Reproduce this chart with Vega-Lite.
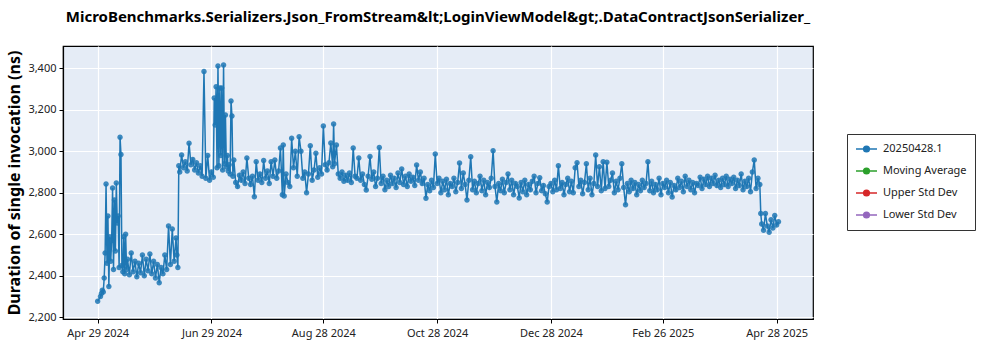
{
"$schema":"https://vega.github.io/schema/vega-lite/v6.json",
"width":750,"height":273,
"autosize":{"type":"none"},
"padding":{"left":63,"top":46,"right":187,"bottom":31},
"background":"white",
"title":{"text":"MicroBenchmarks.Serializers.Json_FromStream&lt;LoginViewModel&gt;.DataContractJsonSerializer_","anchor":"middle","frame":"group","font":"Noto Sans","fontSize":15,"fontWeight":"bold","color":"black","baseline":"alphabetic","offset":9},
"config":{
"view":{"fill":"#e5ecf6","stroke":"black","strokeWidth":1.2},
"axis":{"labelFont":"Noto Sans","labelFontSize":11,"labelColor":"#222","tickColor":"black","tickSize":4,"domainColor":"black","domainWidth":1.2,"gridColor":"white","gridWidth":1.2,"titleFont":"Noto Sans","titleColor":"black"}
},
"data":{"values":[
{"d":"2024-04-29","v":2278},
{"d":"2024-04-30T12:00Z","v":2300},
{"d":"2024-05-01","v":2315},
{"d":"2024-05-01T12:00Z","v":2330},
{"d":"2024-05-02","v":2322},
{"d":"2024-05-02T12:00Z","v":2390},
{"d":"2024-05-03","v":2510},
{"d":"2024-05-03T12:00Z","v":2842},
{"d":"2024-05-04","v":2460},
{"d":"2024-05-04T12:00Z","v":2688},
{"d":"2024-05-05","v":2348},
{"d":"2024-05-05T12:00Z","v":2588},
{"d":"2024-05-06","v":2470},
{"d":"2024-05-06T12:00Z","v":2570},
{"d":"2024-05-07","v":2823},
{"d":"2024-05-07T12:00Z","v":2430},
{"d":"2024-05-08","v":2765},
{"d":"2024-05-08T12:00Z","v":2520},
{"d":"2024-05-09","v":2847},
{"d":"2024-05-09T12:00Z","v":2655},
{"d":"2024-05-10","v":2688},
{"d":"2024-05-10T12:00Z","v":2440},
{"d":"2024-05-11","v":3068},
{"d":"2024-05-11T12:00Z","v":2984},
{"d":"2024-05-12","v":2450},
{"d":"2024-05-12T12:00Z","v":2420},
{"d":"2024-05-13","v":2588},
{"d":"2024-05-13T12:00Z","v":2410},
{"d":"2024-05-14","v":2600},
{"d":"2024-05-14T12:00Z","v":2430},
{"d":"2024-05-15","v":2480},
{"d":"2024-05-16","v":2405},
{"d":"2024-05-17","v":2510},
{"d":"2024-05-18","v":2420},
{"d":"2024-05-19","v":2470},
{"d":"2024-05-20","v":2395},
{"d":"2024-05-21","v":2460},
{"d":"2024-05-22","v":2415},
{"d":"2024-05-23","v":2500},
{"d":"2024-05-24","v":2400},
{"d":"2024-05-25","v":2480},
{"d":"2024-05-26","v":2425},
{"d":"2024-05-27","v":2505},
{"d":"2024-05-28","v":2410},
{"d":"2024-05-29","v":2470},
{"d":"2024-05-30","v":2390},
{"d":"2024-05-31","v":2455},
{"d":"2024-06-01","v":2367},
{"d":"2024-06-02","v":2440},
{"d":"2024-06-03","v":2410},
{"d":"2024-06-04","v":2500},
{"d":"2024-06-05","v":2430},
{"d":"2024-06-06","v":2640},
{"d":"2024-06-07","v":2455},
{"d":"2024-06-08","v":2625},
{"d":"2024-06-09","v":2470},
{"d":"2024-06-10","v":2582},
{"d":"2024-06-10T12:00Z","v":2500},
{"d":"2024-06-11","v":2440},
{"d":"2024-06-11T12:00Z","v":2930},
{"d":"2024-06-12","v":2900},
{"d":"2024-06-13","v":2982},
{"d":"2024-06-14","v":2920},
{"d":"2024-06-15","v":2950},
{"d":"2024-06-16","v":2905},
{"d":"2024-06-17","v":3039},
{"d":"2024-06-18","v":2935},
{"d":"2024-06-19","v":2960},
{"d":"2024-06-20","v":2910},
{"d":"2024-06-21","v":2945},
{"d":"2024-06-22","v":2895},
{"d":"2024-06-23","v":2930},
{"d":"2024-06-24","v":2880},
{"d":"2024-06-25","v":3384},
{"d":"2024-06-26","v":2870},
{"d":"2024-06-27","v":2980},
{"d":"2024-06-28","v":2860},
{"d":"2024-06-29","v":2900},
{"d":"2024-06-30","v":2875},
{"d":"2024-06-30T12:00Z","v":3257},
{"d":"2024-07-01","v":3127},
{"d":"2024-07-01T12:00Z","v":3311},
{"d":"2024-07-02","v":2920},
{"d":"2024-07-02T12:00Z","v":3411},
{"d":"2024-07-03","v":2930},
{"d":"2024-07-03T12:00Z","v":3305},
{"d":"2024-07-04","v":2980},
{"d":"2024-07-04T12:00Z","v":3305},
{"d":"2024-07-05","v":2910},
{"d":"2024-07-05T12:00Z","v":3416},
{"d":"2024-07-06","v":2940},
{"d":"2024-07-06T12:00Z","v":3175},
{"d":"2024-07-07","v":2925},
{"d":"2024-07-07T12:00Z","v":2980},
{"d":"2024-07-08","v":2905},
{"d":"2024-07-08T12:00Z","v":2935},
{"d":"2024-07-09","v":2890},
{"d":"2024-07-09T12:00Z","v":3242},
{"d":"2024-07-10","v":3170},
{"d":"2024-07-10T12:00Z","v":2880},
{"d":"2024-07-11","v":2958},
{"d":"2024-07-12","v":2850},
{"d":"2024-07-13","v":2830},
{"d":"2024-07-14","v":2885},
{"d":"2024-07-15","v":2860},
{"d":"2024-07-16","v":2900},
{"d":"2024-07-17","v":2845},
{"d":"2024-07-18","v":2968},
{"d":"2024-07-19","v":2870},
{"d":"2024-07-20","v":2840},
{"d":"2024-07-21","v":2880},
{"d":"2024-07-22","v":2781},
{"d":"2024-07-23","v":2950},
{"d":"2024-07-24","v":2860},
{"d":"2024-07-25","v":2890},
{"d":"2024-07-26","v":2850},
{"d":"2024-07-27","v":2955},
{"d":"2024-07-28","v":2870},
{"d":"2024-07-29","v":2905},
{"d":"2024-07-30","v":2845},
{"d":"2024-07-31","v":2950},
{"d":"2024-08-01","v":2880},
{"d":"2024-08-02","v":2958},
{"d":"2024-08-03","v":2870},
{"d":"2024-08-04","v":2905},
{"d":"2024-08-05","v":3016},
{"d":"2024-08-06","v":2790},
{"d":"2024-08-06T12:00Z","v":3030},
{"d":"2024-08-07","v":2785},
{"d":"2024-08-08","v":2890},
{"d":"2024-08-09","v":2850},
{"d":"2024-08-10","v":2830},
{"d":"2024-08-11","v":3063},
{"d":"2024-08-12","v":2920},
{"d":"2024-08-13","v":3000},
{"d":"2024-08-14","v":2880},
{"d":"2024-08-15","v":3070},
{"d":"2024-08-16","v":3000},
{"d":"2024-08-17","v":2870},
{"d":"2024-08-18","v":2900},
{"d":"2024-08-19","v":2800},
{"d":"2024-08-20","v":2890},
{"d":"2024-08-21","v":3026},
{"d":"2024-08-22","v":2860},
{"d":"2024-08-23","v":2910},
{"d":"2024-08-24","v":2990},
{"d":"2024-08-25","v":2875},
{"d":"2024-08-26","v":2920},
{"d":"2024-08-27","v":2890},
{"d":"2024-08-28","v":3122},
{"d":"2024-08-29","v":2935},
{"d":"2024-08-30","v":2910},
{"d":"2024-08-31","v":2945},
{"d":"2024-09-01","v":3040},
{"d":"2024-09-02","v":2925},
{"d":"2024-09-02T12:00Z","v":3131},
{"d":"2024-09-03","v":2940},
{"d":"2024-09-04","v":3030},
{"d":"2024-09-05","v":2890},
{"d":"2024-09-06","v":2870},
{"d":"2024-09-07","v":2900},
{"d":"2024-09-08","v":2855},
{"d":"2024-09-09","v":2885},
{"d":"2024-09-10","v":2860},
{"d":"2024-09-11","v":2895},
{"d":"2024-09-12","v":2850},
{"d":"2024-09-13","v":3016},
{"d":"2024-09-14","v":2880},
{"d":"2024-09-15","v":2870},
{"d":"2024-09-16","v":2968},
{"d":"2024-09-17","v":2860},
{"d":"2024-09-18","v":2890},
{"d":"2024-09-19","v":2840},
{"d":"2024-09-20","v":2813},
{"d":"2024-09-21","v":2880},
{"d":"2024-09-22","v":2975},
{"d":"2024-09-23","v":2865},
{"d":"2024-09-24","v":2900},
{"d":"2024-09-25","v":2830},
{"d":"2024-09-26","v":2870},
{"d":"2024-09-27","v":3018},
{"d":"2024-09-28","v":2845},
{"d":"2024-09-29","v":2880},
{"d":"2024-09-30","v":2815},
{"d":"2024-10-01","v":2860},
{"d":"2024-10-02","v":2830},
{"d":"2024-10-03","v":2885},
{"d":"2024-10-04","v":2845},
{"d":"2024-10-05","v":2870},
{"d":"2024-10-06","v":2825},
{"d":"2024-10-07","v":2895},
{"d":"2024-10-08","v":2850},
{"d":"2024-10-09","v":2915},
{"d":"2024-10-10","v":2840},
{"d":"2024-10-11","v":2880},
{"d":"2024-10-12","v":2830},
{"d":"2024-10-13","v":2890},
{"d":"2024-10-14","v":2855},
{"d":"2024-10-15","v":2875},
{"d":"2024-10-16","v":2835},
{"d":"2024-10-17","v":2934},
{"d":"2024-10-18","v":2860},
{"d":"2024-10-19","v":2900},
{"d":"2024-10-20","v":2845},
{"d":"2024-10-21","v":2870},
{"d":"2024-10-22","v":2774},
{"d":"2024-10-23","v":2840},
{"d":"2024-10-24","v":2810},
{"d":"2024-10-25","v":2860},
{"d":"2024-10-26","v":2825},
{"d":"2024-10-27","v":2987},
{"d":"2024-10-28","v":2845},
{"d":"2024-10-29","v":2870},
{"d":"2024-10-30","v":2800},
{"d":"2024-10-31","v":2855},
{"d":"2024-11-01","v":2815},
{"d":"2024-11-02","v":2865},
{"d":"2024-11-03","v":2790},
{"d":"2024-11-04","v":2845},
{"d":"2024-11-05","v":2830},
{"d":"2024-11-06","v":2870},
{"d":"2024-11-07","v":2805},
{"d":"2024-11-08","v":2850},
{"d":"2024-11-09","v":2943},
{"d":"2024-11-10","v":2820},
{"d":"2024-11-11","v":2895},
{"d":"2024-11-12","v":2840},
{"d":"2024-11-13","v":2765},
{"d":"2024-11-14","v":2860},
{"d":"2024-11-15","v":2973},
{"d":"2024-11-16","v":2815},
{"d":"2024-11-17","v":2855},
{"d":"2024-11-18","v":2800},
{"d":"2024-11-19","v":2845},
{"d":"2024-11-20","v":2880},
{"d":"2024-11-21","v":2810},
{"d":"2024-11-22","v":2860},
{"d":"2024-11-23","v":2790},
{"d":"2024-11-24","v":2850},
{"d":"2024-11-25","v":2825},
{"d":"2024-11-26","v":2870},
{"d":"2024-11-27","v":3003},
{"d":"2024-11-28","v":2830},
{"d":"2024-11-29","v":2756},
{"d":"2024-11-30","v":2845},
{"d":"2024-12-01","v":2810},
{"d":"2024-12-02","v":2865},
{"d":"2024-12-03","v":2800},
{"d":"2024-12-04","v":2850},
{"d":"2024-12-05","v":2890},
{"d":"2024-12-06","v":2815},
{"d":"2024-12-07","v":2860},
{"d":"2024-12-08","v":2790},
{"d":"2024-12-09","v":2845},
{"d":"2024-12-10","v":2830},
{"d":"2024-12-11","v":2775},
{"d":"2024-12-12","v":2850},
{"d":"2024-12-13","v":2805},
{"d":"2024-12-14","v":2860},
{"d":"2024-12-15","v":2790},
{"d":"2024-12-16","v":2840},
{"d":"2024-12-17","v":2815},
{"d":"2024-12-18","v":2855},
{"d":"2024-12-19","v":2880},
{"d":"2024-12-20","v":2800},
{"d":"2024-12-21","v":2845},
{"d":"2024-12-22","v":2872},
{"d":"2024-12-23","v":2810},
{"d":"2024-12-24","v":2835},
{"d":"2024-12-25","v":2795},
{"d":"2024-12-26","v":2756},
{"d":"2024-12-27","v":2830},
{"d":"2024-12-28","v":2845},
{"d":"2024-12-29","v":2805},
{"d":"2024-12-30","v":2860},
{"d":"2024-12-31","v":2815},
{"d":"2025-01-01","v":2930},
{"d":"2025-01-02","v":2820},
{"d":"2025-01-03","v":2850},
{"d":"2025-01-04","v":2790},
{"d":"2025-01-05","v":2840},
{"d":"2025-01-06","v":2870},
{"d":"2025-01-07","v":2805},
{"d":"2025-01-08","v":2855},
{"d":"2025-01-09","v":2800},
{"d":"2025-01-10","v":2920},
{"d":"2025-01-11","v":2945},
{"d":"2025-01-12","v":2830},
{"d":"2025-01-13","v":2860},
{"d":"2025-01-14","v":2795},
{"d":"2025-01-15","v":2850},
{"d":"2025-01-16","v":2940},
{"d":"2025-01-17","v":2815},
{"d":"2025-01-18","v":2870},
{"d":"2025-01-19","v":2790},
{"d":"2025-01-20","v":2845},
{"d":"2025-01-21","v":2982},
{"d":"2025-01-22","v":2830},
{"d":"2025-01-23","v":2925},
{"d":"2025-01-24","v":2810},
{"d":"2025-01-25","v":2950},
{"d":"2025-01-26","v":2820},
{"d":"2025-01-27","v":2947},
{"d":"2025-01-28","v":2830},
{"d":"2025-01-29","v":2860},
{"d":"2025-01-30","v":2895},
{"d":"2025-01-31","v":2800},
{"d":"2025-02-01","v":2855},
{"d":"2025-02-02","v":2815},
{"d":"2025-02-03","v":2870},
{"d":"2025-02-04","v":2940},
{"d":"2025-02-05","v":2825},
{"d":"2025-02-06","v":2742},
{"d":"2025-02-07","v":2845},
{"d":"2025-02-08","v":2805},
{"d":"2025-02-09","v":2860},
{"d":"2025-02-10","v":2820},
{"d":"2025-02-11","v":2850},
{"d":"2025-02-12","v":2790},
{"d":"2025-02-13","v":2840},
{"d":"2025-02-14","v":2810},
{"d":"2025-02-15","v":2860},
{"d":"2025-02-16","v":2825},
{"d":"2025-02-17","v":2845},
{"d":"2025-02-18","v":2950},
{"d":"2025-02-19","v":2810},
{"d":"2025-02-20","v":2855},
{"d":"2025-02-21","v":2800},
{"d":"2025-02-22","v":2840},
{"d":"2025-02-23","v":2815},
{"d":"2025-02-24","v":2870},
{"d":"2025-02-25","v":2790},
{"d":"2025-02-26","v":2845},
{"d":"2025-02-27","v":2825},
{"d":"2025-02-28","v":2860},
{"d":"2025-03-01","v":2800},
{"d":"2025-03-02","v":2850},
{"d":"2025-03-03","v":2780},
{"d":"2025-03-04","v":2835},
{"d":"2025-03-05","v":2815},
{"d":"2025-03-06","v":2870},
{"d":"2025-03-07","v":2825},
{"d":"2025-03-08","v":2855},
{"d":"2025-03-09","v":2805},
{"d":"2025-03-10","v":2880},
{"d":"2025-03-11","v":2830},
{"d":"2025-03-12","v":2860},
{"d":"2025-03-13","v":2815},
{"d":"2025-03-14","v":2850},
{"d":"2025-03-15","v":2800},
{"d":"2025-03-16","v":2845},
{"d":"2025-03-17","v":2835},
{"d":"2025-03-18","v":2875},
{"d":"2025-03-19","v":2820},
{"d":"2025-03-20","v":2865},
{"d":"2025-03-21","v":2840},
{"d":"2025-03-22","v":2880},
{"d":"2025-03-23","v":2830},
{"d":"2025-03-24","v":2870},
{"d":"2025-03-25","v":2845},
{"d":"2025-03-26","v":2885},
{"d":"2025-03-27","v":2835},
{"d":"2025-03-28","v":2860},
{"d":"2025-03-29","v":2825},
{"d":"2025-03-30","v":2870},
{"d":"2025-03-31","v":2840},
{"d":"2025-04-01","v":2880},
{"d":"2025-04-02","v":2830},
{"d":"2025-04-03","v":2865},
{"d":"2025-04-04","v":2845},
{"d":"2025-04-05","v":2875},
{"d":"2025-04-06","v":2820},
{"d":"2025-04-07","v":2860},
{"d":"2025-04-08","v":2835},
{"d":"2025-04-09","v":2890},
{"d":"2025-04-10","v":2815},
{"d":"2025-04-11","v":2855},
{"d":"2025-04-12","v":2830},
{"d":"2025-04-13","v":2870},
{"d":"2025-04-14","v":2805},
{"d":"2025-04-15","v":2900},
{"d":"2025-04-16","v":2958},
{"d":"2025-04-17","v":2820},
{"d":"2025-04-18","v":2870},
{"d":"2025-04-19","v":2840},
{"d":"2025-04-19T12:00Z","v":2700},
{"d":"2025-04-20","v":2650},
{"d":"2025-04-21","v":2620},
{"d":"2025-04-22","v":2700},
{"d":"2025-04-23","v":2640},
{"d":"2025-04-24","v":2610},
{"d":"2025-04-25","v":2670},
{"d":"2025-04-26","v":2630},
{"d":"2025-04-27","v":2690},
{"d":"2025-04-28","v":2645},
{"d":"2025-04-29","v":2660}
]},
"encoding":{
"x":{"field":"d","type":"temporal","title":null,
 "scale":{"type":"utc","domain":[{"year":2024,"month":4,"date":10,"hours":10,"utc":true},{"year":2025,"month":5,"date":17,"hours":12,"utc":true}]},
 "axis":{"values":[{"year":2024,"month":4,"date":29,"utc":true},{"year":2024,"month":6,"date":29,"utc":true},{"year":2024,"month":8,"date":28,"utc":true},{"year":2024,"month":10,"date":28,"utc":true},{"year":2024,"month":12,"date":28,"utc":true},{"year":2025,"month":2,"date":26,"utc":true},{"year":2025,"month":4,"date":28,"utc":true}],
  "labelExpr":"utcFormat(datum.value, '%b %d %Y')","labelPadding":4,"labelFlush":false,"labelOverlap":false}},
"y":{"field":"v","type":"quantitative","title":"Duration of single invocation (ns)",
 "scale":{"domain":[2192,3507],"nice":false,"zero":false},
 "axis":{"values":[2200,2400,2600,2800,3000,3200,3400],"labelExpr":"format(datum.value, ',.0f')","labelPadding":3,"titleFontSize":16,"titleFontWeight":"bold","titlePadding":5}},
"color":{"datum":"20250428.1","type":"nominal",
 "scale":{"domain":["20250428.1","Moving Average","Upper Std Dev","Lower Std Dev"],"range":["#1f77b4","#2ca02c","#d62728","#9467bd"]},
 "legend":{"orient":"none","legendX":784,"legendY":88,"title":null,"padding":8,"strokeColor":"#333","fillColor":"white","cornerRadius":0,
  "symbolType":"M-1,0L1,0M-0.28,0A0.28,0.28,0,1,1,0.28,0A0.28,0.28,0,1,1,-0.28,0Z","symbolSize":441,"clipHeight":14,"rowPadding":8,"symbolStrokeWidth":1.3,
  "labelFont":"Noto Sans","labelFontSize":11,"labelColor":"#222","labelOffset":5,
  "encode":{"symbols":{"update":{"fill":{"scale":"color","field":"value"},"stroke":{"scale":"color","field":"value"},"opacity":{"value":1}}}}}}
},
"layer":[
{"mark":{"type":"line","strokeWidth":1.5,"opacity":1}},
{"mark":{"type":"point","filled":true,"shape":"M-0.6,-1H0.6M0,-1V1M-0.6,1H0.6M-0.55,0A0.55,0.55,0,1,1,0.55,0A0.55,0.55,0,1,1,-0.55,0Z","size":100,"strokeWidth":1.4,"opacity":0.85}}
]
}
